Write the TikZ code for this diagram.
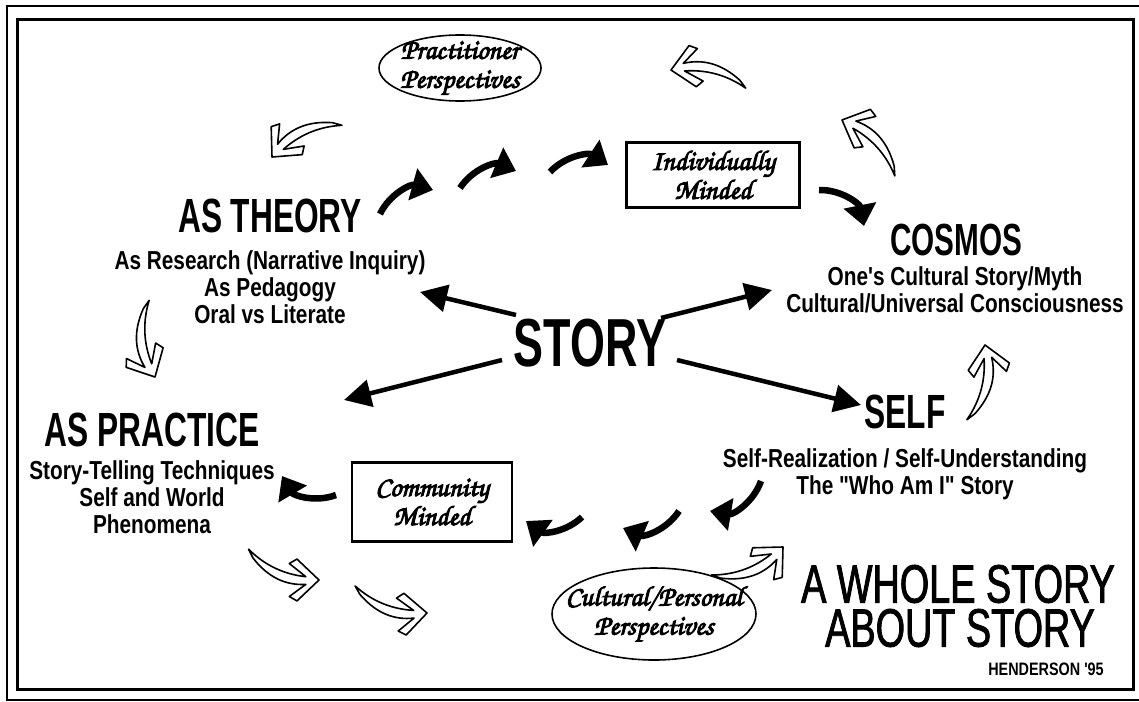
\documentclass[tikz,border=0pt]{standalone}
\usepackage{fontspec}
\setmainfont{Liberation Sans}
\newfontfamily\headfont{Liberation Sans}[FakeStretch=0.66]
\newfontfamily\linefont{Liberation Sans}[FakeStretch=0.8]
\newfontfamily\wholefont{Liberation Sans}[FakeStretch=0.7,FakeBold=1.5]
\newfontfamily\chorus{texgyrechorus-mediumitalic.otf}[FakeBold=3.5]
\usetikzlibrary{arrows.meta,shapes.geometric}

\tikzset{
  headline/.style={font={\headfont\bfseries\fontsize{48}{48}\selectfont}, inner sep=0pt},
  subline/.style={font={\linefont\bfseries\fontsize{26}{27}\selectfont}, align=center, inner sep=0pt},
  scripttext/.style={font={\chorus\fontsize{28}{29}\selectfont}, align=center, inner sep=0pt},
  wholeline/.style={font={\wholefont\fontsize{54}{54}\selectfont}, inner sep=0pt},
  mindbox/.style={draw, line width=2.5pt, inner sep=0pt},
  oval/.style={draw, ellipse, line width=1.6pt, inner sep=0pt},
  flow/.style={line width=6.5pt, -{Triangle[length=21pt,width=32pt]}},
  spoke/.style={line width=4.5pt, -{Triangle[length=27pt,width=27pt]}},
  hollow/.pic={
    \draw[line width=1.6pt, fill=white, line join=round, scale=1.1]
      (0,0) -- (-20,-19) -- (-27,-15) -- (-12,-3)
      .. controls (-30,-5) and (-48,-12) .. (-64,-28)
      -- (-60,-20)
      .. controls (-46,-2) and (-30,5) .. (-12,4)
      -- (-27,15) -- (-20,19) -- cycle;
  }
}

\begin{document}
\begin{tikzpicture}[x=1pt,y=-1pt]
  \useasboundingbox (0,0) rectangle (1139,701);
  \fill[white] (0,0) rectangle (1139,701);

  % double frame
  \draw[line width=1.5pt] (7,6) rectangle (1146,700);
  \draw[line width=3pt] (17,20) rectangle (1133,689);

  % central word
  \node[font={\headfont\bfseries\fontsize{68}{68}\selectfont}, inner sep=0pt] (story) at (590,343) {STORY};

  % four domains
  \node[headline] (theory) at (270,216) {AS THEORY};
  \node[subline] (theorysub) at (270,287) {As Research (Narrative Inquiry)\\As Pedagogy\\Oral vs Literate};

  \node[headline, font={\headfont\bfseries\fontsize{45}{45}\selectfont}] (cosmos) at (956,240) {COSMOS};
  \node[subline] (cosmossub) at (955,290) {One's Cultural Story/Myth\\Cultural/Universal Consciousness};

  \node[headline] (practice) at (152,430) {AS PRACTICE};
  \node[subline] (practicesub) at (152,497) {Story-Telling Techniques\\Self and World\\Phenomena};

  \node[headline] (self) at (905,412) {SELF};
  \node[subline] (selfsub) at (905,474) {Self-Realization / Self-Understanding\\The "Who Am I" Story};

  \node[wholeline] (whole1) at (958,584) {A WHOLE STORY};
  \node[wholeline] (whole2) at (960,628) {ABOUT STORY};
  \node[font={\linefont\bfseries\fontsize{18}{18}\selectfont}, inner sep=0pt] (sign) at (1046,669) {HENDERSON '95};

  % perspectives and minds
  \node[oval, minimum width=162pt, minimum height=66pt] (practitioner) at (460,68) {};
  \node[scripttext] (practtext) at (460,68) {Practitioner\\Perspectives};

  \node[oval, minimum width=204pt, minimum height=92pt] (cultural) at (654,614) {};
  \node[scripttext] (culttext) at (654,614) {Cultural/Personal\\Perspectives};

  \node[mindbox, minimum width=173pt, minimum height=65pt] (indiv) at (713,175) {};
  \node[scripttext] (indivtext) at (713,175) {Individually\\Minded};

  \node[mindbox, minimum width=160pt, minimum height=79pt] (commun) at (432,502) {};
  \node[scripttext] (communtext) at (432,502) {Community\\Minded};

  % spokes from the centre
  \coordinate (s1a) at (516,315); \coordinate (s1b) at (420,292);
  \coordinate (s2a) at (661,318); \coordinate (s2b) at (772,290);
  \coordinate (s3a) at (502,360); \coordinate (s3b) at (344,400);
  \coordinate (s4a) at (677,360); \coordinate (s4b) at (861,405);
  \draw[spoke] (s1a) -- (s1b);
  \draw[spoke] (s2a) -- (s2b);
  \draw[spoke] (s3a) -- (s3b);
  \draw[spoke] (s4a) -- (s4b);

  % solid flow arrows
  \coordinate (f1a) at (380,214); \coordinate (f1b) at (433,190);
  \coordinate (f2a) at (460,188); \coordinate (f2b) at (516,171);
  \coordinate (f3a) at (550,172); \coordinate (f3b) at (608,165);
  \coordinate (f4a) at (819,190); \coordinate (f4b) at (864,226);
  \coordinate (f5a) at (336,495); \coordinate (f5b) at (282,476);
  \coordinate (f6a) at (582,517); \coordinate (f6b) at (526,521);
  \coordinate (f7a) at (679,511); \coordinate (f7b) at (623,528);
  \coordinate (f8a) at (761,481); \coordinate (f8b) at (710,511);
  \draw[flow] (f1a) to[bend left=40] (f1b);
  \draw[flow] (f2a) to[bend left=40] (f2b);
  \draw[flow] (f3a) to[bend left=40] (f3b);
  \draw[flow] (f4a) to[bend left=40] (f4b);
  \draw[flow] (f5a) to[bend left=40] (f5b);
  \draw[flow] (f6a) to[bend left=40] (f6b);
  \draw[flow] (f7a) to[bend left=40] (f7b);
  \draw[flow] (f8a) to[bend left=40] (f8b);

  % outlined cycle arrows
  \pic[rotate=228] at (272,157) {hollow};
  \pic[rotate=190] at (671,70) {hollow};
  \pic[rotate=157] at (842,120) {hollow};
  \pic[rotate=298] at (155,377) {hollow};
  \pic[rotate=100] at (985,345) {hollow};
  \pic[rotate=0] at (319,580) {hollow};
  \pic[rotate=3] at (427,613) {hollow};
  \pic[rotate=45] at (783,547) {hollow};
\end{tikzpicture}
\end{document}
